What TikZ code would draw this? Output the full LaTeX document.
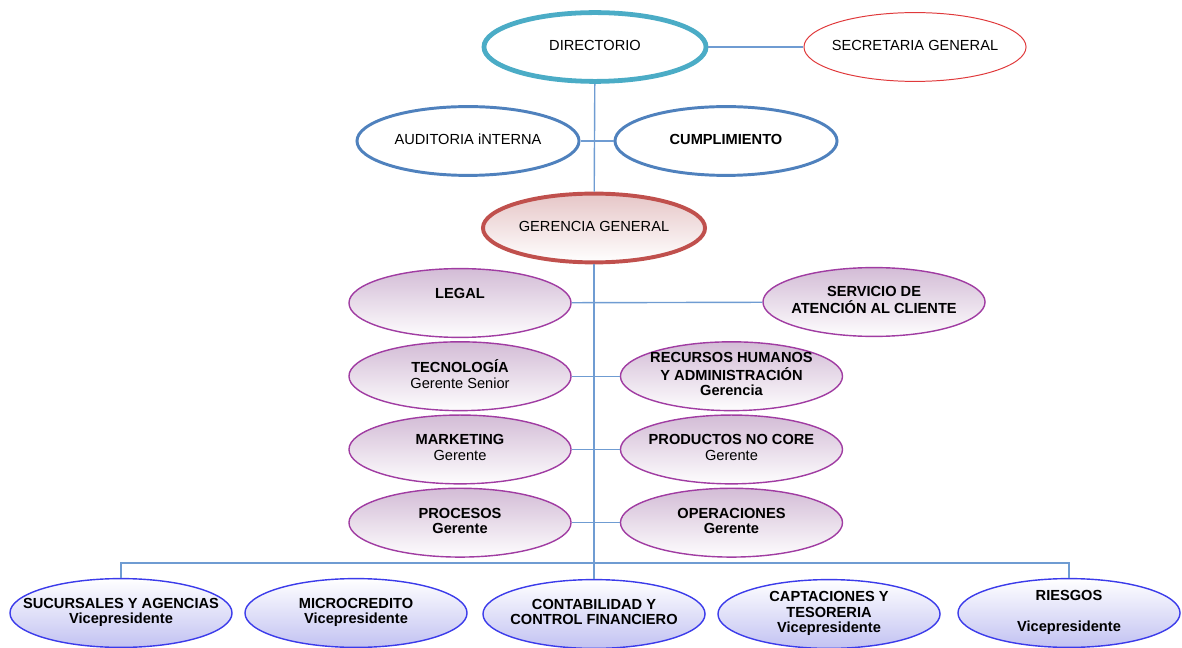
\documentclass[tikz,border=0pt]{standalone}
\usepackage{fontspec}
\setmainfont{Liberation Sans}
\usetikzlibrary{positioning, shapes.geometric}
\definecolor{Teal}{HTML}{4BACC6}
\definecolor{Steel}{HTML}{4F81BD}
\definecolor{Brick}{HTML}{C0504D}
\definecolor{Scarlet}{HTML}{E0393B}
\definecolor{Rose}{HTML}{E6C6C7}
\definecolor{Plum}{HTML}{A03CA2}
\definecolor{PlumTop}{HTML}{D3BCD6}
\definecolor{Indigo}{HTML}{3B3BEA}
\definecolor{Lilac}{HTML}{C2C2F2}
\definecolor{Wire}{HTML}{6F9CD2}
\newcommand{\etq}[1]{\makebox[0pt]{\begin{tabular}{@{}c@{}}#1\end{tabular}}}

\begin{document}
\begin{tikzpicture}[x=0.025cm, y=-0.025cm,
          oval/.style={ellipse, minimum width=5.55cm, minimum height=1.72cm, inner sep=0pt,
                        font=\fontsize{10.4}{11}\selectfont, text=black},
          boardbox/.style={oval, draw=Teal, line width=3.4pt, fill=white},
          secbox/.style={oval, draw=Scarlet, line width=0.7pt, fill=white},
          auditbox/.style={oval, draw=Steel, line width=2.1pt, fill=white},
          ceobox/.style={oval, draw=Brick, line width=2.8pt, top color=Rose, bottom color=white},
          areabox/.style={oval, draw=Plum, line width=1pt, top color=PlumTop, bottom color=white!97!PlumTop},
          vpbox/.style={oval, draw=Indigo, line width=1pt, top color=white, bottom color=Lilac,
                        font=\fontsize{10.4}{11}\selectfont\bfseries},
          conn/.style={draw=Wire, line width=1pt},
          node distance=0.075cm
        ]
          \useasboundingbox (0,0) rectangle (1182,648);
          % direccion
          \node[boardbox] (dir) at (595,47) {\etq{DIRECTORIO}};
          \node[secbox] (sec) at (915,47) {\etq{SECRETARIA GENERAL}};
          \node[auditbox] (aud) at (468,141) {\etq{AUDITORIA iNTERNA}};
          \node[auditbox] (cum) at (726,141) {\etq{\textbf{CUMPLIMIENTO}}};
          \node[ceobox] (ger) at (594,228) {\etq{GERENCIA GENERAL}};
          % areas de apoyo
          \node[areabox] (leg) at (460,303) {\etq{\textbf{LEGAL}\\ {}}};
          \node[areabox, below=of leg] (tec) {\etq{\textbf{TECNOLOGÍA}\\ Gerente Senior}};
          \node[areabox, below=of tec] (mkt) {\etq{\textbf{MARKETING}\\ Gerente}};
          \node[areabox, below=of mkt] (pro) {\etq{\textbf{PROCESOS}\\ \textbf{Gerente}}};
          \node[areabox] (sac) at (874,302) {\etq{\textbf{SERVICIO DE}\\ \textbf{ATENCIÓN AL CLIENTE}}};
          \node[areabox, right=1.2cm of tec] (rrhh) {\etq{\textbf{RECURSOS HUMANOS}\\ \textbf{Y ADMINISTRACIÓN}\\ \textbf{Gerencia}}};
          \node[areabox, right=1.2cm of mkt] (pnc) {\etq{\textbf{PRODUCTOS NO CORE}\\ Gerente}};
          \node[areabox, right=1.2cm of pro] (ope) {\etq{\textbf{OPERACIONES}\\ \textbf{Gerente}}};
          % vicepresidencias
          \node[vpbox] (suc) at (121,613) {\etq{SUCURSALES Y AGENCIAS\\ Vicepresidente}};
          \node[vpbox] (mic) at (356,613) {\etq{MICROCREDITO\\ Vicepresidente}};
          \node[vpbox] (con) at (594,614) {\etq{CONTABILIDAD Y\\ CONTROL FINANCIERO}};
          \node[vpbox] (cap) at (829,614) {\etq{CAPTACIONES Y\\ TESORERIA\\ Vicepresidente}};
          \node[vpbox] (rie) at (1069,613) {\etq{RIESGOS\\ {}\\ Vicepresidente}};
          \coordinate (bar) at (594,563);
          % lineas
          \draw[conn] (dir)--(sec); \draw[conn] (dir)--(ger);
          \draw[conn] (aud)--(cum); \draw[conn] (ger)--(con);
          \draw[conn] (leg)--(sac); \draw[conn] (tec)--(rrhh);
          \draw[conn] (mkt)--(pnc); \draw[conn] (pro)--(ope);
          \draw[conn] (suc.north) |- (bar) -| (rie.north);
        \end{tikzpicture}
\end{document}
